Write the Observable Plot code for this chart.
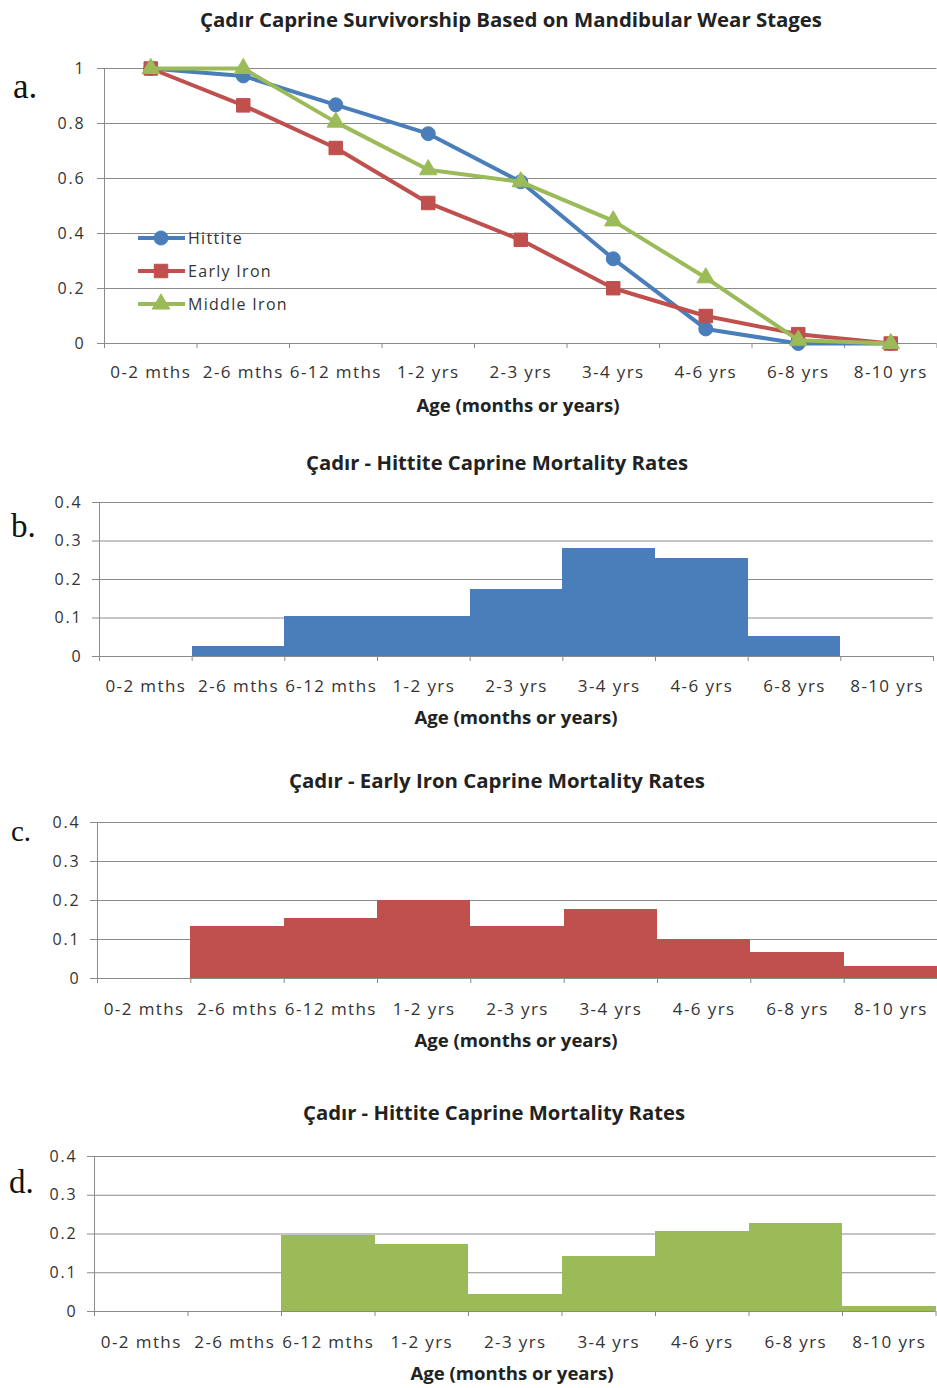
<!DOCTYPE html>
<html>
<head>
<meta charset="utf-8">
<script src="https://cdn.jsdelivr.net/npm/d3@7"></script>
<script src="https://cdn.jsdelivr.net/npm/@observablehq/plot@0.6"></script>
<style>
  html, body { margin: 0; padding: 0; background: #fff; }
  #wrap { position: relative; width: 937px; height: 1388px; overflow: hidden; font-family: "Open Sans", sans-serif; }
  #wrap > svg { position: absolute; left: 0; }
  #wrap [aria-label="x-axis tick label"] text { letter-spacing: 1.4px; }
  #wrap [aria-label="y-axis tick label"] text { letter-spacing: 1.8px; }
</style>
</head>
<body>
<div id="wrap"></div>
<script>
// Age classes (mandibular wear stages)
const ageClasses = ["0-2 mths", "2-6 mths", "6-12 mths", "1-2 yrs", "2-3 yrs", "3-4 yrs", "4-6 yrs", "6-8 yrs", "8-10 yrs"];

// Survivorship (proportion surviving) per age class
const survHittite    = [1, 0.973, 0.868, 0.763, 0.588, 0.308, 0.053, 0, 0];
const survEarlyIron  = [1, 0.866, 0.711, 0.511, 0.377, 0.201, 0.100, 0.034, 0];
const survMiddleIron = [1, 1, 0.805, 0.632, 0.588, 0.446, 0.239, 0.012, 0];

// Mortality rates per age class
const mortHittite    = [0, 0.027, 0.105, 0.105, 0.175, 0.280, 0.255, 0.053, 0];
const mortEarlyIron  = [0, 0.134, 0.155, 0.200, 0.134, 0.176, 0.101, 0.066, 0.031];
const mortMiddleIron = [0, 0, 0.195, 0.173, 0.044, 0.142, 0.207, 0.227, 0.014];

// Tick values
const survTicks = [0, 0.2, 0.4, 0.6, 0.8, 1];
const mortTicks = [0, 0.1, 0.2, 0.3, 0.4];

const W = 937;
const GRID = "#8a8a8a";
const TEXT = "#333";
const BLUE = "#4A7EBB", RED = "#C0504D", GREEN = "#9BBB59";
const wrap = document.getElementById("wrap");
const fmt = d3.format("~g");

// Shared frame: gridlines, left axis line, y ticks, x band-edge ticks and category labels
function frame(yTicks, yPad, labelPad) {
  const idx = d3.range(ageClasses.length);
  const edges = d3.range(ageClasses.length + 1).map(i => i - 0.5);
  return {
    grid: Plot.gridY(yTicks, {stroke: GRID, strokeOpacity: 1, strokeWidth: 1}),
    axes: [
      Plot.ruleX([-0.5], {stroke: GRID, strokeWidth: 1}),
      Plot.axisY(yTicks, {tickSize: 7, tickPadding: yPad, stroke: GRID, fill: TEXT, fontSize: 16, tickFormat: fmt, label: null}),
      Plot.axisX(edges, {tickSize: 5, stroke: GRID, tickFormat: () => "", label: null}),
      Plot.axisX(idx, {tickSize: 0, tickPadding: labelPad, fill: TEXT, fontSize: 17, tickFormat: i => ageClasses[i], label: null})
    ]
  };
}

function place(svg, top) {
  svg.style.top = top + "px";
  wrap.appendChild(svg);
}

// a. survivorship lines
const series = [
  {values: survHittite, color: BLUE, symbol: "circle", r: 7},
  {values: survEarlyIron, color: RED, symbol: "square", r: 7.6},
  {values: survMiddleIron, color: GREEN, symbol: "triangle", r: 6.5}
];
const lineMarks = series.flatMap(s => [
  Plot.line(s.values, {x: (d, i) => i, y: d => d, stroke: s.color, strokeWidth: 4}),
  Plot.dot(s.values, {x: (d, i) => i, y: d => d, symbol: s.symbol, r: s.r, fill: s.color, stroke: s.color, strokeWidth: 1})
]);
const fa = frame(survTicks, 12, 22);
const panelA = Plot.plot({
  width: W, height: 390,
  marginTop: 28, marginBottom: 87, marginLeft: 104, marginRight: 0.5,
  x: {type: "linear", domain: [-0.5, 8.5]},
  y: {domain: [0, 1]},
  style: {fontFamily: "Open Sans", background: "transparent", overflow: "visible"},
  marks: [fa.grid, ...fa.axes, ...lineMarks]
});
place(panelA, 40);

// b–d. mortality histograms
function mortalityPanel(values, color, top, height, mt, mb, ml, mr, pad) {
  const f = frame(mortTicks, 10, pad);
  const svg = Plot.plot({
    width: W, height,
    marginTop: mt, marginBottom: mb, marginLeft: ml, marginRight: mr,
    x: {type: "linear", domain: [-0.5, 8.5]},
    y: {domain: [0, 0.4]},
    style: {fontFamily: "Open Sans", background: "transparent", overflow: "visible"},
    marks: [
      f.grid,
      Plot.rect(values, {x1: (d, i) => i - 0.5, x2: (d, i) => i + 0.5, y1: 0, y2: d => d, fill: color, shapeRendering: "crispEdges"}),
      ...f.axes
    ]
  });
  place(svg, top);
}
mortalityPanel(mortHittite, BLUE, 480, 260, 22, 84, 99, 4, 23);
mortalityPanel(mortEarlyIron, RED, 800, 260, 22, 82, 97, 0, 24);
mortalityPanel(mortMiddleIron, GREEN, 1134, 254, 22, 77, 94, 1.5, 24);

// Titles, axis titles, panel letters and legend
const ov = d3.create("svg").attr("width", W).attr("height", 1388).style("top", "0px");
const titles = [
  {t: "Çadır Caprine Survivorship Based on Mandibular Wear Stages", x: 511, y: 20, len: 622},
  {t: "Çadır - Hittite Caprine Mortality Rates", x: 497, y: 463, len: 382},
  {t: "Çadır - Early Iron Caprine Mortality Rates", x: 497, y: 781, len: 416},
  {t: "Çadır - Hittite Caprine Mortality Rates", x: 494, y: 1113, len: 382}
];
const axisTitles = [
  {x: 518, y: 406}, {x: 516, y: 718}, {x: 516, y: 1041}, {x: 512, y: 1374}
];
const letters = [
  {t: "a.", x: 13, y: 98, s: 35}, {t: "b.", x: 11, y: 537, s: 33},
  {t: "c.", x: 11, y: 841, s: 29}, {t: "d.", x: 9, y: 1193, s: 33}
];
ov.selectAll("text.title").data(titles).join("text")
  .attr("x", d => d.x).attr("y", d => d.y).attr("dy", "0.35em")
  .attr("text-anchor", "middle").attr("font-family", "Open Sans").attr("font-weight", "bold")
  .attr("font-size", 20).attr("fill", "#222")
  .attr("textLength", d => d.len).attr("lengthAdjust", "spacingAndGlyphs")
  .text(d => d.t);
ov.selectAll("text.axis").data(axisTitles).join("text")
  .attr("x", d => d.x).attr("y", d => d.y).attr("dy", "0.35em")
  .attr("text-anchor", "middle").attr("font-family", "Open Sans").attr("font-weight", "bold")
  .attr("font-size", 18).attr("fill", "#222")
  .attr("textLength", 203).attr("lengthAdjust", "spacingAndGlyphs")
  .text("Age (months or years)");
ov.selectAll("text.letter").data(letters).join("text")
  .attr("x", d => d.x).attr("y", d => d.y)
  .attr("font-family", "Liberation Serif, DejaVu Serif, serif").attr("font-size", d => d.s).attr("fill", "#111")
  .text(d => d.t);

const legendItems = [
  {t: "Hittite", color: BLUE, symbol: d3.symbolCircle, r: 7, y: 238},
  {t: "Early Iron", color: RED, symbol: d3.symbolSquare, r: 7.6, y: 271},
  {t: "Middle Iron", color: GREEN, symbol: d3.symbolTriangle, r: 6.5, y: 304}
];
const lg = ov.append("g");
legendItems.forEach(it => {
  lg.append("line").attr("x1", 138).attr("x2", 185).attr("y1", it.y).attr("y2", it.y)
    .attr("stroke", it.color).attr("stroke-width", 4);
  lg.append("path").attr("transform", `translate(161,${it.y})`)
    .attr("d", d3.symbol(it.symbol, Math.PI * it.r * it.r)())
    .attr("fill", it.color).attr("stroke", it.color);
  lg.append("text").attr("x", 188).attr("y", it.y).attr("dy", "0.35em")
    .attr("font-family", "Open Sans").attr("font-size", 16).attr("letter-spacing", "1.3px")
    .attr("fill", TEXT).text(it.t);
});
wrap.appendChild(ov.node());
</script>
</body>
</html>
